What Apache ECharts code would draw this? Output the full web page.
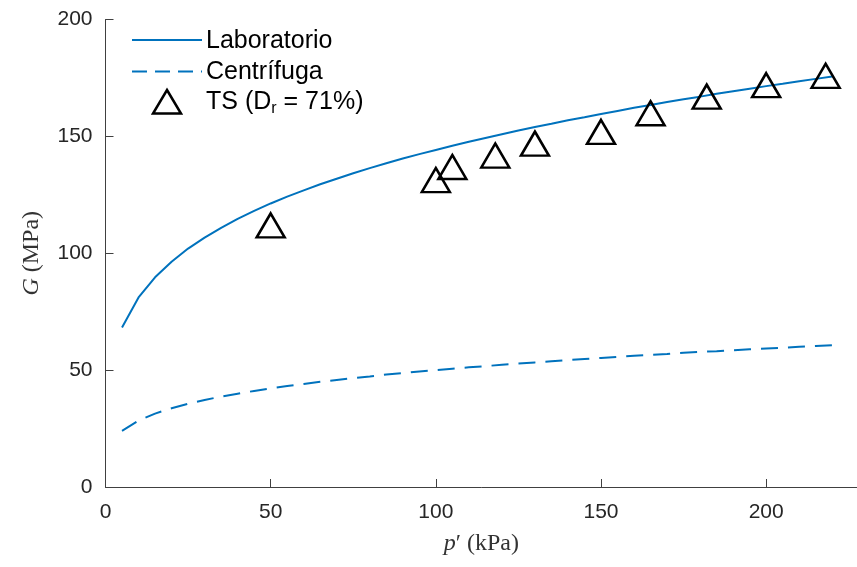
<!DOCTYPE html>
<html><head><meta charset="utf-8">
<script src="https://cdn.jsdelivr.net/npm/echarts@6/dist/echarts.min.js"></script>
<style>html,body{margin:0;padding:0;background:#fff}#c{width:857px;height:567px}</style>
</head><body><div id="c"></div>
<script>
const pValues = [5,10,15,20,25,30,35,40,45,50,55,60,65,70,75,80,85,90,95,100,105,110,115,120,125,130,135,140,145,150,155,160,165,170,175,180,185,190,195,200,205,210,215,220];
const labValues = [68.2,81.1,89.7,96.4,102.0,106.7,110.9,114.7,118.1,121.3,124.2,126.9,129.5,131.9,134.2,136.4,138.5,140.5,142.4,144.2,146.0,147.7,149.3,150.9,152.5,154.0,155.4,156.9,158.2,159.6,160.9,162.2,163.4,164.7,165.9,167.0,168.2,169.3,170.4,171.5,172.5,173.6,174.6,175.6];
const centValues = [24.0,28.4,31.4,33.7,35.6,37.2,38.7,39.9,41.1,42.2,43.2,44.1,45.0,45.8,46.6,47.3,48.1,48.7,49.4,50.0,50.6,51.2,51.7,52.3,52.8,53.3,53.8,54.3,54.8,55.2,55.7,56.1,56.5,56.9,57.4,57.8,58.1,58.5,58.9,59.3,59.6,60.0,60.3,60.7];
const tsP = [50,100,105,118,130,150,165,182,200,218];
const tsG = [111.9,131.3,136.9,141.8,146.9,151.9,159.9,167.0,171.9,175.9];
const xTicks = [0,50,100,150,200];
const seriesNames = ['Laboratorio','Centrífuga','TS (Dr = 71%)'];

const blue = '#0072BD';
const axisColor = '#404040';
const legendFont = {fontFamily: 'Liberation Sans', fontSize: 25, fill: '#000', verticalAlign: 'middle', align: 'left'};
const chart = echarts.init(document.getElementById('c'));
chart.setOption({
  animation: false,
  grid: {left: 105.5, right: 0, top: 19.5, bottom: 80},
  graphic: [
    {type: 'line', shape: {x1: 132, y1: 40, x2: 202, y2: 40}, style: {stroke: blue, lineWidth: 2}},
    {type: 'text', x: 206, y: 41, style: Object.assign({text: seriesNames[0]}, legendFont)},
    {type: 'line', shape: {x1: 132, y1: 71.5, x2: 202, y2: 71.5}, style: {stroke: blue, lineWidth: 2, lineDash: [15, 8]}},
    {type: 'text', x: 206, y: 72.5, style: Object.assign({text: seriesNames[1]}, legendFont)},
    {type: 'polygon', shape: {points: [[167, 90], [181, 113.5], [153, 113.5]]}, style: {fill: 'none', stroke: '#000', lineWidth: 2.5}},
    {type: 'text', x: 206, y: 102.5, style: Object.assign({
      text: 'TS (D{sub|r} = 71%)',
      rich: {sub: {fontFamily: 'Liberation Sans', fontSize: 16, fill: '#000', padding: [12, 0, 0, 0]}}
    }, legendFont)}
  ],
  xAxis: {
    type: 'value', min: 0, max: 227.5,
    axisLine: {show: true, lineStyle: {color: axisColor, width: 1}},
    axisTick: {show: true, inside: true, length: 8, lineStyle: {color: axisColor}, customValues: xTicks},
    axisLabel: {customValues: xTicks, fontFamily: 'Liberation Sans', fontSize: 21, color: '#262626', margin: 15},
    splitLine: {show: false},
    name: '{i|p}′ (kPa)', nameLocation: 'middle', nameGap: 45,
    nameTextStyle: {fontFamily: 'Liberation Serif', fontSize: 24, color: '#333',
      rich: {i: {fontFamily: 'Liberation Serif', fontStyle: 'italic', fontSize: 24, color: '#333'}}}
  },
  yAxis: {
    type: 'value', min: 0, max: 200, interval: 50,
    axisLine: {show: true, lineStyle: {color: axisColor, width: 1}},
    axisTick: {show: true, inside: true, length: 8, lineStyle: {color: axisColor}},
    axisLabel: {fontFamily: 'Liberation Sans', fontSize: 21, color: '#262626', margin: 13},
    splitLine: {show: false},
    name: '{i|G} (MPa)', nameLocation: 'middle', nameGap: 62, nameRotate: 90,
    nameTextStyle: {fontFamily: 'Liberation Serif', fontSize: 24, color: '#333',
      rich: {i: {fontFamily: 'Liberation Serif', fontStyle: 'italic', fontSize: 24, color: '#333'}}}
  },
  series: [
    {name: seriesNames[0], type: 'line', showSymbol: false, symbol: 'none', data: pValues.map((p,i)=>[p, labValues[i]]),
      lineStyle: {color: blue, width: 2}, itemStyle: {color: blue}},
    {name: seriesNames[1], type: 'line', showSymbol: false, symbol: 'none', data: pValues.map((p,i)=>[p, centValues[i]]),
      lineStyle: {color: blue, width: 2, type: [17,10]}, itemStyle: {color: blue}},
    {name: seriesNames[2], type: 'scatter', symbol: 'triangle', symbolSize: [28,24], z: 5,
      data: tsP.map((p,i)=>[p, tsG[i]]),
      itemStyle: {color: 'rgba(0,0,0,0)', borderColor: '#000', borderWidth: 2.5, opacity: 1}}
  ]
});
</script></body></html>
